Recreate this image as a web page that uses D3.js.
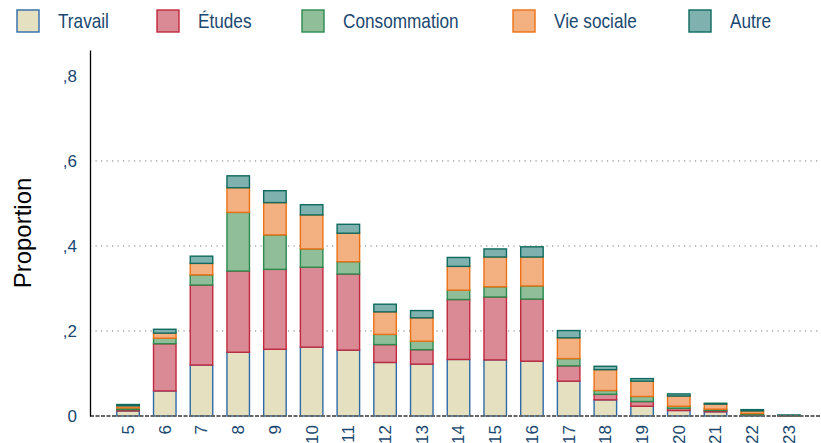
<!DOCTYPE html>
<html>
<head>
<meta charset="utf-8">
<script src="https://cdn.jsdelivr.net/npm/d3@7"></script>
<style>
  html, body { margin: 0; padding: 0; background: #fff; }
  svg { display: block; font-family: "Liberation Sans", Arial, Helvetica, sans-serif; }
</style>
</head>
<body>
<svg id="chart" width="821" height="443"></svg>
<script>
// Hour of day
const hours = ["5","6","7","8","9","10","11","12","13","14","15","16","17","18","19","20","21","22","23"];

// Proportion by activity type, one value per hour
const travail      = [0.012,0.059,0.120,0.150,0.157,0.162,0.155,0.126,0.122,0.133,0.132,0.129,0.082,0.038,0.023,0.013,0.010,0.002,0.0003];
const etudes       = [0.003,0.111,0.188,0.191,0.188,0.188,0.179,0.042,0.034,0.141,0.148,0.146,0.036,0.013,0.011,0.005,0.003,0.001,0.0002];
const consommation = [0.004,0.013,0.024,0.138,0.081,0.043,0.029,0.024,0.020,0.022,0.024,0.031,0.017,0.009,0.012,0.005,0.003,0.003,0.0002];
const vieSociale   = [0.005,0.012,0.027,0.058,0.076,0.080,0.067,0.053,0.055,0.056,0.070,0.068,0.049,0.049,0.036,0.024,0.012,0.006,0.0005];
const autre        = [0.003,0.009,0.017,0.028,0.028,0.024,0.021,0.018,0.017,0.021,0.019,0.024,0.017,0.008,0.006,0.005,0.002,0.003,0.0012];

const seriesNames = ["Travail","Études","Consommation","Vie sociale","Autre"];
const fills   = ["#e5e0bf","#d98a94","#8fbe98","#f3b181","#7fb2ae"];
const strokes = ["#2f6aa8","#c1283e","#2c8a4e","#ec7014","#0e6a5e"];

const yTicks = [0, 0.2, 0.4, 0.6, 0.8];
const yTickLabels = ["0", ",2", ",4", ",6", ",8"];

const rows = hours.map((h, i) => ({
  hour: h,
  "Travail": travail[i],
  "Études": etudes[i],
  "Consommation": consommation[i],
  "Vie sociale": vieSociale[i],
  "Autre": autre[i]
}));

const svg = d3.select("#chart");
const plotLeft = 90, plotRight = 827, plotTop = 50, plotBottom = 416;
const textColor = "#1a476f";

const x = d3.scaleBand().domain(hours).range([plotLeft, plotRight]).paddingInner(0.387).paddingOuter(0.73);
const y = d3.scaleLinear().domain([0, 0.861]).range([plotBottom, plotTop]);

// Dotted gridlines
svg.append("g").selectAll("line")
  .data(yTicks.filter(t => t > 0 && t < 0.7))
  .join("line")
  .attr("x1", plotLeft).attr("x2", 821)
  .attr("y1", d => y(d)).attr("y2", d => y(d))
  .attr("stroke", "#777").attr("stroke-width", 1)
  .attr("stroke-dasharray", "1.2,4.3");

// Stacked bars
const stack = d3.stack().keys(seriesNames);
const layers = stack(rows);

svg.append("g").selectAll("g")
  .data(layers)
  .join("g")
  .attr("fill", (d, i) => fills[i])
  .attr("stroke", (d, i) => strokes[i])
  .attr("stroke-width", 1.4)
  .selectAll("rect")
  .data(d => d)
  .join("rect")
  .attr("x", d => x(d.data.hour))
  .attr("width", x.bandwidth())
  .attr("y", d => y(d[1]))
  .attr("height", d => Math.max(0, y(d[0]) - y(d[1])));

// Baseline
svg.append("line")
  .attr("x1", plotLeft).attr("x2", 821)
  .attr("y1", plotBottom).attr("y2", plotBottom)
  .attr("stroke", "#666").attr("stroke-width", 2)
  .attr("stroke-dasharray", "4,1.5");

// Y axis
const yAxis = d3.axisLeft(y)
  .tickValues(yTicks)
  .tickFormat((d, i) => yTickLabels[i])
  .tickSize(0)
  .tickPadding(13);
const yg = svg.append("g").attr("transform", `translate(${plotLeft},0)`).call(yAxis);
yg.select(".domain").attr("stroke", "#000").attr("stroke-width", 1.3);
yg.selectAll("text").attr("fill", textColor).attr("font-size", 17)
  .attr("font-family", "Liberation Sans, Arial, sans-serif");

// X axis labels (rotated)
const xAxis = d3.axisBottom(x).tickSize(0).tickPadding(0);
const xg = svg.append("g").attr("transform", `translate(0,${plotBottom})`).call(xAxis);
xg.select(".domain").remove();
xg.selectAll("text")
  .attr("fill", textColor).attr("font-size", 17)
  .attr("font-family", "Liberation Sans, Arial, sans-serif")
  .attr("text-anchor", "end")
  .attr("dy", "0.35em")
  .attr("transform", "translate(0,9) rotate(-90)")
  .attr("x", 0).attr("y", 0);

// Y axis title
svg.append("text")
  .attr("transform", `translate(31,${(plotTop + plotBottom) / 2}) rotate(-90)`)
  .attr("text-anchor", "middle")
  .attr("font-size", 24)
  .attr("fill", "#000")
  .text("Proportion");

// Legend
const legendX = [17, 157, 302, 513, 689];
const lg = svg.append("g").selectAll("g")
  .data(seriesNames)
  .join("g")
  .attr("transform", (d, i) => `translate(${legendX[i]},10)`);
lg.append("rect")
  .attr("width", 22).attr("height", 22)
  .attr("fill", (d, i) => fills[i])
  .attr("stroke", (d, i) => strokes[i])
  .attr("stroke-width", 1.4);
lg.append("text")
  .attr("transform", "translate(41,11) scale(0.86,1)")
  .attr("dy", "0.36em")
  .attr("font-size", 20)
  .attr("fill", textColor)
  .text(d => d);
</script>
</body>
</html>
